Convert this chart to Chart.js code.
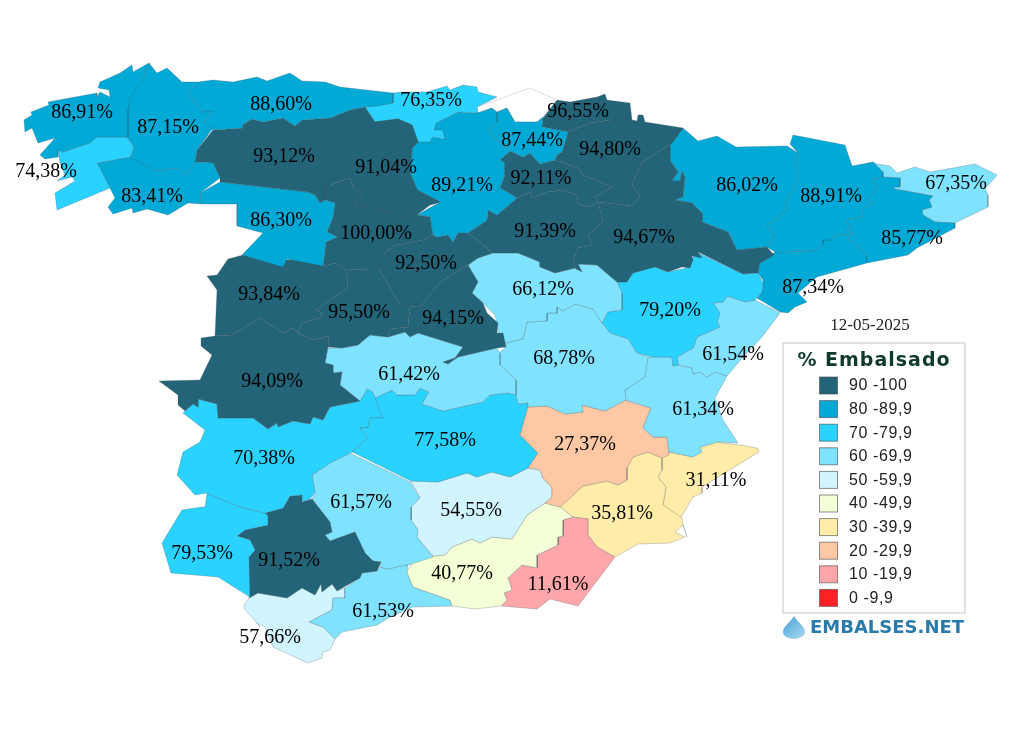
<!DOCTYPE html>
<html>
<head>
<meta charset="utf-8">
<title>% Embalsado</title>
<script src="https://cdn.jsdelivr.net/npm/chart.js@4"></script>
<style>
html, body { margin: 0; padding: 0; background: #fff; }
canvas { display: block; }
</style>
</head>
<body>
<canvas id="myChart" width="1024" height="733"></canvas>
<script>
const dateLabel = '12-05-2025';
const legendTitle = '% Embalsado';
const brand = 'EMBALSES.NET';
const binLabels = ['90 -100', '80 -89,9', '70 -79,9', '60 -69,9', '50 -59,9', '40 -49,9', '30 -39,9', '20 -29,9', '10 -19,9', '0 -9,9'];
const binFloors = [90, 80, 70, 60, 50, 40, 30, 20, 10, 0];
const binColors = ['#236478', '#00a9d6', '#29d2ff', '#7fe3ff', '#d1f5ff', '#f4ffd6', '#ffeca8', '#ffc8a5', '#ffa6ab', '#ff2126'];

// percent full per area, same order as labelX, labelY and outlines
const values = [86.91, 87.15, 88.60, 74.38, 83.41, 93.12, 86.30, 91.04, 100.00, 76.35, 89.21, 87.44, 96.55, 94.80, 92.11, 91.39,
    94.67, 92.50, 94.15, 95.50, 93.84, 94.09, 61.42, 66.12, 68.78, 79.20, 61.54, 61.34, 27.37, 77.58, 70.38, 79.53, 91.52, 61.57,
    54.55, 40.77, 11.61, 35.81, 31.11, 61.53, 57.66, 86.02, 88.91, 85.77, 67.35, 87.34];
const labelX = [82, 168, 281, 46, 152, 284, 281, 386, 376, 431, 462, 532, 578, 610, 541, 545,
    644, 426, 453, 359, 269, 272, 409, 543, 564, 670, 733, 703, 585, 445, 264, 202, 289, 361,
    471, 462, 558, 622, 716, 383, 270, 747, 831, 912, 956, 813];
const labelY = [111, 126, 103, 170, 195, 155, 219, 166, 232, 99, 184, 139, 110, 148, 177, 230,
    236, 262, 317, 311, 293, 380, 373, 288, 357, 309, 353, 408, 443, 439, 457, 552, 559, 501,
    509, 572, 583, 512, 479, 610, 636, 184, 195, 237, 182, 286];

const outlines = [
    [[24,120],[32,115],[31,112],[49,105],[48,102],[97,93],[97,97],[100,92],[110,97],[109,90],[98,88],[100,82],[120,73],[132,65],[133,72],[149,63],[143,80],[130,98],[128,110],[128,137],[97,137],[90,143],[63,152],[58,150],[58,157],[45,159],[40,155],[55,138],[38,143],[32,128],[25,132]],
    [[149,63],[157,73],[167,68],[182,82],[198,82],[188,93],[203,112],[213,112],[203,122],[213,128],[197,150],[195,162],[187,175],[177,168],[157,171],[130,158],[134,147],[127,137],[128,98],[143,80]],
    [[198,82],[213,80],[233,82],[257,77],[267,81],[290,73],[302,81],[325,82],[340,87],[393,93],[393,103],[377,106],[365,107],[350,110],[330,118],[302,120],[295,126],[283,118],[263,122],[252,119],[242,125],[243,128],[213,130],[203,122],[213,112],[203,112],[188,93]],
    [[97,137],[127,137],[134,147],[130,157],[97,163],[110,188],[57,210],[55,193],[75,181],[72,177],[57,181],[65,175],[60,163],[58,149],[63,152],[90,143]],
    [[97,163],[130,157],[157,171],[177,168],[187,175],[195,162],[213,163],[220,178],[200,193],[202,204],[188,203],[168,215],[147,209],[133,213],[132,208],[113,214],[108,207],[115,198],[110,188]],
    [[213,130],[243,128],[242,125],[252,119],[263,122],[283,118],[295,126],[302,120],[330,118],[350,110],[365,107],[375,122],[398,119],[412,125],[418,142],[412,148],[410,173],[417,190],[440,202],[430,205],[398,219],[395,213],[373,208],[355,205],[363,195],[353,187],[350,178],[330,185],[325,185],[325,200],[320,203],[315,195],[308,192],[220,182],[220,178],[213,163],[195,162],[197,150]],
    [[220,182],[200,193],[202,204],[237,204],[237,226],[263,233],[242,255],[283,267],[287,259],[323,266],[326,242],[337,237],[327,232],[333,217],[335,203],[325,200],[320,203],[315,195],[308,192]],
    [[375,122],[398,119],[412,125],[418,142],[412,148],[410,173],[417,190],[440,202],[430,205],[398,219],[395,213],[373,208],[355,205],[363,195],[353,187],[357,177],[362,143]],
    [[330,185],[350,178],[353,187],[363,195],[355,205],[373,208],[395,213],[398,219],[430,205],[417,215],[430,217],[433,235],[423,240],[393,246],[385,253],[378,267],[367,270],[345,269],[335,263],[323,266],[326,242],[337,237],[327,232],[333,217],[335,203],[325,200],[325,185]],
    [[365,107],[393,103],[393,93],[402,92],[427,92],[447,86],[450,90],[463,85],[477,87],[478,92],[497,97],[477,107],[478,113],[458,112],[436,123],[434,130],[442,130],[445,139],[432,137],[430,142],[418,142],[412,125],[398,119],[375,122]],
    [[412,148],[418,142],[430,142],[432,137],[445,139],[442,130],[434,130],[436,123],[458,112],[477,113],[492,108],[497,112],[497,122],[488,130],[497,140],[510,151],[500,160],[505,163],[505,175],[500,188],[517,198],[497,215],[488,210],[487,220],[468,233],[458,233],[453,242],[448,235],[437,237],[433,235],[430,217],[417,215],[440,202],[417,190],[410,173]],
    [[497,112],[507,108],[515,122],[537,122],[543,117],[542,127],[568,132],[562,152],[557,155],[555,160],[540,164],[530,153],[523,157],[510,151],[497,140],[488,130],[497,122]],
    [[543,118],[557,100],[570,102],[597,97],[605,94],[607,100],[630,103],[632,120],[610,120],[590,123],[568,132],[542,127]],
    [[568,132],[590,123],[610,120],[632,120],[637,121],[638,115],[643,115],[645,122],[683,128],[672,143],[642,162],[632,185],[640,197],[632,206],[598,202],[595,197],[612,187],[583,175],[578,168],[555,160],[557,155],[562,152]],
    [[500,160],[510,151],[523,157],[530,153],[540,164],[555,160],[578,168],[583,175],[612,187],[595,197],[598,202],[588,207],[578,204],[577,195],[563,190],[547,192],[532,198],[530,192],[517,198],[500,188],[505,175],[505,163]],
    [[517,198],[530,192],[532,198],[547,192],[563,190],[577,195],[578,204],[588,207],[598,202],[603,222],[588,235],[592,245],[578,248],[573,262],[578,270],[575,268],[555,273],[540,267],[540,262],[518,253],[493,253],[468,233],[487,220],[488,210],[497,215]],
    [[598,202],[632,206],[640,197],[632,185],[642,162],[672,143],[683,128],[670,143],[670,160],[678,172],[672,181],[680,181],[682,171],[685,177],[683,197],[675,200],[692,203],[702,213],[702,222],[728,232],[737,250],[767,247],[774,255],[760,263],[758,273],[743,274],[698,252],[702,258],[692,256],[693,260],[690,268],[682,267],[668,272],[655,267],[633,273],[627,282],[617,282],[597,265],[578,264],[582,272],[575,268],[578,270],[573,262],[578,248],[592,245],[588,235],[603,222]],
    [[393,246],[423,240],[433,235],[437,237],[448,235],[453,242],[458,233],[468,233],[493,253],[478,258],[468,265],[440,282],[422,305],[400,305],[377,266],[385,253]],
    [[440,282],[468,265],[478,282],[472,293],[483,303],[487,313],[498,323],[497,333],[503,333],[506,347],[497,348],[458,357],[448,364],[443,362],[455,358],[463,347],[418,333],[410,337],[405,332],[388,337],[390,329],[408,327],[410,307],[422,305]],
    [[345,269],[367,270],[377,266],[400,305],[422,305],[410,307],[408,327],[390,329],[388,337],[370,335],[358,345],[342,348],[328,347],[329,336],[313,340],[298,333],[302,323],[320,318],[322,313],[316,310],[347,288],[348,278]],
    [[207,276],[217,275],[228,259],[243,255],[262,258],[283,266],[285,260],[307,259],[323,266],[335,263],[345,269],[348,278],[347,288],[316,310],[322,313],[320,318],[302,323],[298,333],[293,328],[283,333],[260,318],[232,335],[215,336],[217,290]],
    [[201,338],[215,336],[232,335],[260,318],[283,333],[293,328],[298,333],[313,340],[329,336],[328,347],[325,363],[333,365],[333,373],[342,372],[340,385],[360,401],[330,407],[323,420],[313,417],[310,424],[293,421],[278,427],[277,423],[268,429],[253,418],[218,418],[217,404],[198,399],[198,407],[193,404],[185,411],[178,405],[178,395],[159,381],[200,380],[212,355],[201,346]],
    [[325,363],[328,348],[342,348],[358,345],[370,335],[388,337],[405,332],[410,337],[418,333],[463,347],[455,358],[443,362],[448,364],[458,357],[497,348],[500,353],[500,365],[516,380],[516,395],[508,393],[490,395],[483,402],[443,411],[422,404],[429,392],[420,388],[415,395],[397,395],[392,390],[375,398],[373,392],[367,389],[360,401],[340,385],[342,372],[333,373],[333,365]],
    [[468,265],[478,258],[493,253],[518,253],[540,262],[540,267],[555,273],[575,268],[582,272],[578,264],[597,265],[617,282],[622,293],[622,310],[608,312],[602,323],[593,309],[575,304],[563,311],[557,307],[557,313],[547,313],[547,321],[527,322],[523,339],[505,343],[499,333],[495,315],[483,303],[472,293],[478,282]],
    [[506,347],[505,343],[523,339],[527,322],[547,321],[547,313],[557,313],[557,307],[563,311],[575,304],[593,309],[602,323],[610,333],[628,339],[637,353],[648,357],[645,377],[625,390],[626,400],[605,411],[582,405],[583,412],[565,414],[547,406],[528,407],[528,403],[518,404],[516,395],[516,380],[500,365],[499,353]],
    [[617,282],[627,282],[633,273],[653,266],[667,272],[687,268],[693,257],[698,253],[743,274],[758,273],[763,283],[762,292],[755,300],[745,302],[727,296],[723,302],[713,303],[720,313],[717,322],[720,327],[697,337],[693,348],[677,357],[678,365],[673,366],[672,357],[652,357],[637,353],[628,339],[610,333],[602,323],[608,312],[622,310],[622,293]],
    [[723,302],[727,296],[745,302],[755,300],[780,313],[762,337],[743,357],[727,376],[715,372],[707,377],[700,372],[693,374],[692,368],[680,365],[678,365],[677,357],[693,348],[697,337],[720,327],[717,322],[720,313],[713,303]],
    [[648,357],[672,357],[673,366],[678,365],[692,368],[693,374],[700,372],[707,377],[715,372],[727,376],[715,398],[723,420],[738,443],[718,442],[700,447],[702,452],[693,457],[669,452],[667,437],[653,437],[643,428],[651,408],[625,400],[625,390],[645,377]],
    [[528,407],[547,406],[565,414],[583,412],[582,405],[605,411],[625,400],[651,408],[643,428],[653,437],[667,437],[669,455],[662,458],[648,452],[633,457],[627,468],[627,480],[618,485],[607,481],[583,486],[560,507],[545,503],[552,497],[552,488],[543,478],[540,470],[528,468],[538,453],[520,435]],
    [[375,398],[383,418],[370,418],[368,428],[360,428],[368,438],[352,452],[411,481],[438,482],[467,473],[477,477],[492,472],[510,477],[528,468],[538,453],[520,435],[528,407],[528,403],[518,404],[516,395],[508,393],[490,395],[483,402],[443,411],[422,404],[429,392],[420,388],[415,395],[397,395],[392,390]],
    [[183,413],[193,404],[198,407],[198,399],[217,404],[218,418],[253,418],[268,429],[277,423],[278,427],[293,421],[310,424],[313,417],[323,420],[330,407],[360,401],[367,389],[373,392],[375,398],[383,418],[370,418],[368,428],[360,428],[368,438],[352,452],[330,463],[312,475],[315,492],[310,499],[302,502],[302,495],[290,496],[283,508],[265,513],[237,506],[207,493],[195,495],[177,475],[183,452],[200,442],[205,430]],
    [[207,493],[205,507],[202,507],[182,510],[162,543],[171,573],[218,577],[250,597],[249,557],[255,550],[250,540],[237,536],[245,530],[268,525],[268,516],[265,513],[237,506]],
    [[265,513],[283,508],[290,496],[302,495],[302,502],[312,499],[330,522],[332,532],[325,535],[330,541],[355,532],[365,553],[373,561],[381,562],[377,571],[362,573],[360,578],[337,591],[332,584],[322,592],[321,584],[315,595],[302,588],[287,598],[258,593],[249,598],[249,557],[255,550],[250,540],[237,536],[245,530],[268,525],[268,516]],
    [[312,499],[315,492],[312,475],[330,463],[350,453],[410,482],[420,498],[411,507],[411,520],[418,530],[417,537],[433,557],[408,565],[405,565],[388,569],[380,567],[381,562],[373,561],[365,553],[355,532],[330,541],[325,535],[332,532],[330,522]],
    [[411,481],[420,498],[411,507],[411,520],[418,530],[417,537],[433,556],[445,555],[452,547],[472,539],[480,543],[492,537],[512,539],[527,515],[545,503],[552,497],[552,488],[543,478],[540,470],[528,468],[510,477],[492,472],[477,477],[467,473],[438,482]],
    [[433,556],[445,555],[452,547],[472,539],[480,543],[492,537],[512,539],[527,515],[545,503],[560,507],[573,517],[563,520],[563,536],[558,537],[558,545],[537,555],[537,568],[522,565],[508,578],[512,590],[504,593],[507,600],[501,606],[475,609],[452,606],[450,600],[413,587],[407,572],[413,562]],
    [[573,517],[563,520],[563,536],[558,537],[558,545],[537,555],[537,568],[522,565],[508,578],[512,590],[504,593],[507,600],[501,606],[537,609],[550,599],[578,606],[615,557],[597,547],[588,535],[588,519]],
    [[560,507],[583,486],[607,481],[618,485],[627,480],[627,468],[633,457],[648,452],[662,458],[662,470],[658,477],[666,487],[663,505],[682,518],[683,525],[687,537],[683,525],[675,532],[685,537],[670,543],[638,544],[615,557],[597,547],[588,535],[588,519],[573,517]],
    [[662,458],[669,452],[693,457],[700,452],[697,449],[715,442],[740,445],[757,448],[759,452],[702,487],[702,493],[693,497],[680,519],[663,505],[666,487],[658,477],[662,470]],
    [[380,567],[388,569],[405,565],[408,565],[407,572],[413,587],[450,600],[452,606],[413,607],[390,617],[377,625],[342,632],[335,639],[323,627],[309,622],[332,610],[333,598],[345,598],[345,588],[360,578],[362,573],[377,571]],
    [[249,598],[258,593],[287,598],[302,588],[315,595],[321,584],[322,592],[332,584],[337,591],[345,588],[345,598],[333,598],[332,610],[309,622],[323,627],[335,639],[330,650],[323,652],[322,658],[308,663],[273,647],[265,627],[257,623],[260,627],[253,618],[245,610],[244,605]],
    [[683,128],[698,141],[717,136],[736,147],[787,146],[798,153],[795,163],[800,177],[785,203],[788,209],[767,225],[775,236],[767,247],[737,250],[728,232],[702,222],[702,213],[692,203],[675,200],[683,197],[685,177],[682,171],[680,181],[672,181],[678,172],[670,160],[670,143]],
    [[798,153],[790,144],[793,135],[845,145],[852,166],[873,162],[883,172],[883,177],[872,179],[877,187],[868,200],[873,203],[863,209],[864,217],[848,219],[847,223],[852,227],[847,230],[853,234],[835,235],[832,240],[823,240],[823,245],[813,251],[775,252],[767,247],[775,236],[767,225],[788,209],[785,203],[800,177],[795,163]],
    [[883,177],[900,178],[900,187],[893,187],[895,189],[933,196],[929,200],[932,207],[922,210],[923,215],[935,222],[955,223],[955,228],[917,248],[908,255],[867,263],[867,255],[848,239],[853,234],[847,230],[852,227],[847,223],[848,219],[864,217],[863,209],[873,203],[868,200],[877,187],[872,179]],
    [[873,162],[877,164],[890,166],[897,173],[915,167],[930,172],[975,164],[997,175],[993,180],[985,188],[988,195],[988,207],[955,223],[935,222],[923,215],[922,210],[932,207],[929,200],[933,196],[895,189],[893,187],[900,187],[900,178],[883,177],[883,172]],
    [[775,252],[813,251],[823,245],[823,240],[832,240],[835,235],[853,234],[848,239],[867,255],[867,263],[817,277],[798,293],[807,302],[795,307],[788,313],[780,312],[757,298],[762,292],[763,280],[758,273],[760,263]]
];

// area with no figure: only its thin outline shows against the page
const blankOutline = [[477,107],[530,88],[555,99],[543,117],[537,122],[515,122],[507,108],[497,112],[492,108],[478,113]];

function colorFor(v) {
    return binColors[binFloors.findIndex(f => v >= f)];
}

function polyDataset(ring, color, line) {
    const pts = ring.map(p => ({ x: p[0], y: p[1] }));
    pts.push(pts[0]);
    return {
        data: pts,
        showLine: true,
        fill: 'shape',
        backgroundColor: color,
        borderColor: line,
        borderWidth: 0.6,
        pointRadius: 0,
        tension: 0
    };
}

const datasets = outlines.map((ring, i) => polyDataset(ring, colorFor(values[i]), 'rgba(70,85,95,0.45)'));
datasets.push(polyDataset(blankOutline, '#ffffff', '#c4c4c4'));

// percent labels on the map, then date, legend box and logo
const mapText = {
    id: 'mapText',
    afterDatasetsDraw(chart) {
        const c = chart.ctx, sx = chart.scales.x, sy = chart.scales.y;
        const px = v => sx.getPixelForValue(v), py = v => sy.getPixelForValue(v);
        c.save();
        c.textBaseline = 'middle';
        c.textAlign = 'center';
        c.fillStyle = '#000';
        c.font = '20px "Liberation Serif"';
        values.forEach((v, i) => {
            c.fillText(v.toFixed(2).replace('.', ',') + '%', px(labelX[i]), py(labelY[i] + 1.5));
        });

        c.fillStyle = '#222';
        c.font = '17px "Liberation Serif"';
        c.fillText(dateLabel, px(870), py(326));

        c.fillStyle = '#fff';
        c.strokeStyle = '#cfcfcf';
        c.lineWidth = 1.2;
        c.fillRect(px(783), py(343), 182, 270);
        c.strokeRect(px(783), py(343), 182, 270);

        c.fillStyle = '#0e3b2e';
        c.font = 'bold 19px "DejaVu Sans"';
        c.letterSpacing = '1px';
        c.fillText(legendTitle, px(874), py(361));

        c.textAlign = 'left';
        c.font = '16px "Liberation Sans"';
        c.letterSpacing = '0.6px';
        binLabels.forEach((txt, i) => {
            const y = 377 + i * 23.6;
            c.fillStyle = binColors[i];
            c.fillRect(px(819.5), py(y), 18, 17);
            c.strokeStyle = 'rgba(70,70,70,0.6)';
            c.lineWidth = 1;
            c.strokeRect(px(819.5), py(y), 18, 17);
            c.fillStyle = '#222';
            c.fillText(txt, px(849), py(y + 9));
        });
        c.letterSpacing = '0px';

        // droplet
        const g = c.createLinearGradient(px(784), py(617), px(804), py(639));
        g.addColorStop(0, '#4aa3d6');
        g.addColorStop(1, '#a9d8ef');
        c.fillStyle = g;
        c.beginPath();
        c.moveTo(px(794), py(616));
        c.bezierCurveTo(px(790), py(623), px(783), py(626), px(783), py(632));
        c.bezierCurveTo(px(783), py(641), px(805), py(641), px(805), py(632));
        c.bezierCurveTo(px(805), py(626), px(798), py(623), px(794), py(616));
        c.fill();

        c.fillStyle = '#2a7aaa';
        c.font = 'bold 18px "DejaVu Sans"';
        c.fillText(brand, px(810), py(628));
        c.restore();
    }
};

new Chart(document.getElementById('myChart'), {
    type: 'scatter',
    data: { datasets: datasets },
    plugins: [mapText],
    options: {
        responsive: false,
        animation: false,
        layout: { padding: 0 },
        plugins: { legend: { display: false }, tooltip: { enabled: false } },
        scales: {
            x: { type: 'linear', display: false, min: 0, max: 1024 },
            y: { type: 'linear', display: false, min: 0, max: 733, reverse: true }
        }
    }
});
</script>
</body>
</html>
